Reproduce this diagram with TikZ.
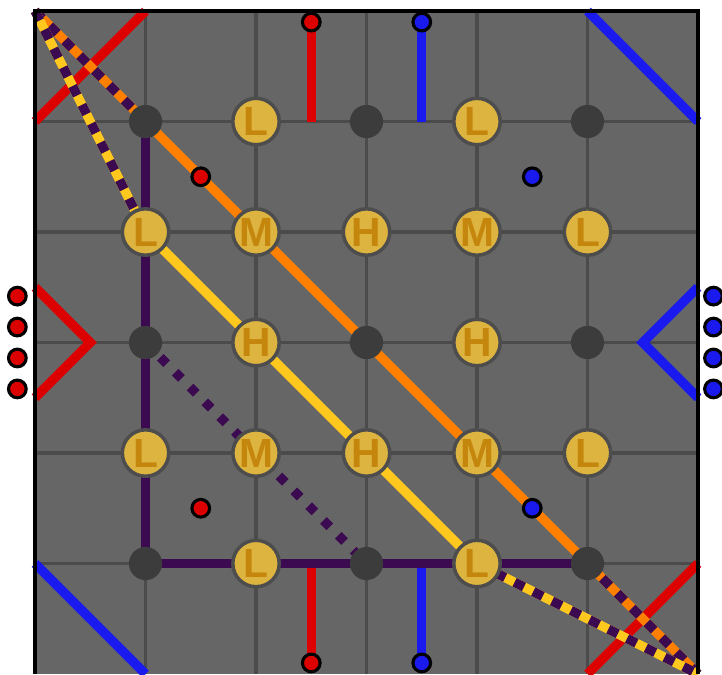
\documentclass[tikz,border=0pt]{standalone}
\usepackage{fontspec}
\setmainfont{Liberation Sans}
\definecolor{boardgray}{HTML}{666666}
\definecolor{gridgray}{HTML}{4B4B4B}
\definecolor{hubgray}{HTML}{3C3C3C}
\definecolor{coingold}{HTML}{DEB440}
\definecolor{coinedge}{HTML}{4D4D4D}
\definecolor{coinletter}{HTML}{C4860C}
\definecolor{routepurple}{HTML}{3C0A50}
\definecolor{routeorange}{HTML}{FF8000}
\definecolor{routeyellow}{HTML}{FFC81E}
\definecolor{sidered}{HTML}{DD0000}
\definecolor{sideblue}{HTML}{1A1AEE}
\pgfdeclarelayer{board}
\pgfdeclarelayer{paths}
\pgfsetlayers{board,paths,main}
\tikzset{
  gridline/.style={draw=gridgray, line width=0.8pt},
  route/.style={line width=2.4pt},
  sideline/.style={line width=2.4pt},
  twotone/.style={line width=2.4pt, dash pattern=on 2.7pt off 2.7pt},
  hub/.style={circle, fill=hubgray, minimum size=0.3cm, inner sep=0pt},
  coin/.style={circle, fill=coingold, draw=coinedge, line width=0.9pt,
    minimum size=0.42cm, inner sep=0pt, text=coinletter,
    font=\fontsize{10.5}{12}\selectfont\bfseries},
  pin/.style={circle, draw=black, line width=0.8pt, minimum size=0.16cm, inner sep=0pt},
}

\begin{document}
\begin{tikzpicture}[x=1cm,y=1cm]
\useasboundingbox (-0.317,0) rectangle (6.217,6.1);
% points of the board
\foreach \i in {1,3,5}
  \foreach \j in {1,3,5}
    \node[hub] (n\i\j) at (\i,\j) {};
\foreach \i/\j/\t in {2/5/L,4/5/L,1/4/L,2/4/M,3/4/H,4/4/M,5/4/L,2/3/H,4/3/H,
                      1/2/L,2/2/M,3/2/H,4/2/M,5/2/L,2/1/L,4/1/L}
  \node[coin] (n\i\j) at (\i,\j) {\t};
% pins
\node[pin, fill=sidered] (rtop) at (2.5,5.9) {};
\node[pin, fill=sideblue] (btop) at (3.5,5.9) {};
\node[pin, fill=sidered] (rbot) at (2.5,0.1) {};
\node[pin, fill=sideblue] (bbot) at (3.5,0.1) {};
\node[pin, fill=sidered] (rin1) at (1.5,4.5) {};
\node[pin, fill=sidered] (rin2) at (1.5,1.5) {};
\node[pin, fill=sideblue] (bin1) at (4.5,4.5) {};
\node[pin, fill=sideblue] (bin2) at (4.5,1.5) {};
\foreach \y [count=\k] in {3.42,3.14,2.86,2.58} {
  \node[pin, fill=sidered] (rl\k) at (-0.16,\y) {};
  \node[pin, fill=sideblue] (br\k) at (6.14,\y) {};
}
\coordinate (tl) at (0,6);
\coordinate (bo) at (6,0);
\draw[black, line width=1pt] (0,0) -- (0,6) -- (6,6) -- (6,0);
\begin{pgfonlayer}{board}
\fill[boardgray] (0,0) rectangle (6,6);
\foreach \k in {1,...,5} {
  \draw[gridline] (\k,0) -- (\k,6);
  \draw[gridline] (0,\k) -- (6,\k);
}
\end{pgfonlayer}
\begin{pgfonlayer}{paths}
% edge marks
\draw[sideline, sidered] (0,5) -- (1,6);
\draw[sideline, sidered] (5,0) -- (6,1);
\draw[sideline, sideblue] (5,6) -- (6,5);
\draw[sideline, sideblue] (0,1) -- (1,0);
\draw[sideline, sidered] (0,3.5) -- (0.5,3) -- (0,2.5);
\draw[sideline, sideblue] (6,3.5) -- (5.5,3) -- (6,2.5);
\draw[sideline, sidered] (rtop.center) -- (2.5,5);
\draw[sideline, sideblue] (btop.center) -- (3.5,5);
\draw[sideline, sidered] (rbot.center) -- (2.5,1);
\draw[sideline, sideblue] (bbot.center) -- (3.5,1);
% routes
\draw[route, routepurple] (n15.center) -- (n11.center) -- (n51.center);
\draw[route, routepurple, dash pattern=on 2.3pt off 3.1pt] (n13.center) -- (n31.center);
\draw[route, routeyellow] (n14.center) -- (n41.center);
\draw[route, routeorange] (n15.center) -- (n51.center);
\draw[route, routeorange] (tl) -- (n15.center);
\draw[twotone, routepurple] (tl) -- (n15.center);
\draw[route, routeyellow] (tl) -- (n14.center);
\draw[twotone, routepurple] (tl) -- (n14.center);
\draw[route, routeorange] (n51.center) -- (bo);
\draw[twotone, routepurple] (n51.center) -- (bo);
\draw[route, routeyellow] (n41.center) -- (bo);
\draw[twotone, routepurple] (n41.center) -- (bo);
\end{pgfonlayer}
\end{tikzpicture}
\end{document}
